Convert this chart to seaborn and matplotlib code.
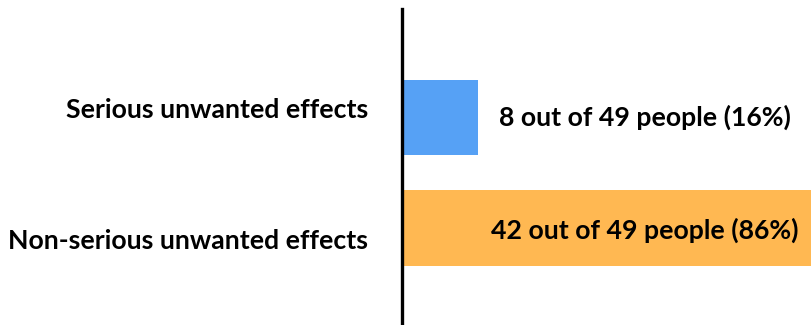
import matplotlib
matplotlib.use("Agg")
import matplotlib.pyplot as plt
import matplotlib.transforms as mtransforms
import pandas as pd
import seaborn as sns

categories = ["Serious unwanted effects", "Non-serious unwanted effects"]
percent = [16, 86]
counts = [8, 42]
totals = [49, 49]
colors = ["#56A1F5", "#FFB852"]

sns.set_theme(style="white")
plt.rcParams["font.family"] = ["Lato", "DejaVu Sans"]

df = pd.DataFrame({"category": categories, "percent": percent})

W, H = 811, 325
fig = plt.figure(figsize=(W / 100, H / 100), dpi=100)
ax = fig.add_axes([402 / W, 0, 409 / W, (H - 9) / H])

sns.barplot(data=df, x="percent", y="category", hue="category",
            palette=colors, orient="h", width=0.68, ax=ax,
            legend=False, saturation=1, linewidth=0)

ax.set_xlim(0, 86)
ax.set_ylim(1.878, -0.982)
ax.set_xlabel("")
ax.set_ylabel("")
ax.set_xticks([])
ax.set_yticks([])
for side in ["top", "right", "bottom"]:
    ax.spines[side].set_visible(False)
ax.spines["left"].set_color("black")
ax.spines["left"].set_linewidth(2.4)

# category names to the left of the axis line
cat_y = [-0.068, 1.114]
trans_left = mtransforms.blended_transform_factory(fig.transFigure, ax.transData)
for y, name in zip(cat_y, categories):
    ax.text(368 / W, y, name, transform=trans_left, ha="right", va="center",
            fontsize=19.2, fontweight="bold", color="black")

# value annotations
val_y = [0.0, 1.02]
trans_val = mtransforms.blended_transform_factory(ax.transAxes, ax.transData)
for y, c, t, p in zip(val_y, counts, totals, percent):
    ax.text(0.594, y, f"{c} out of {t} people ({p}%)", transform=trans_val,
            ha="center", va="center", fontsize=19.2, fontweight="bold",
            color="black")

fig.savefig("out.png", dpi=100)
